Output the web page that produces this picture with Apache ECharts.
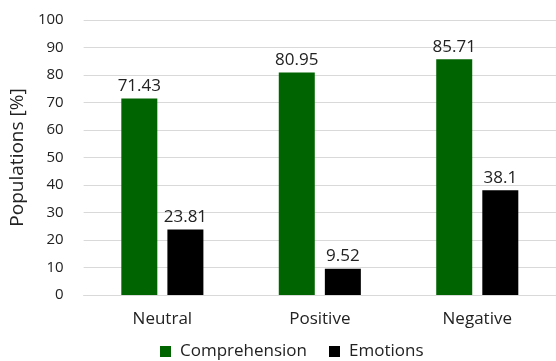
<!DOCTYPE html>
<html>
<head>
<meta charset="utf-8">
<script src="https://cdn.jsdelivr.net/npm/echarts@6/dist/echarts.min.js"></script>
<style>
  html, body { margin: 0; padding: 0; background: #fff; }
  #chart { width: 556px; height: 361px; }
</style>
</head>
<body>
<div id="chart"></div>
<script>
// Share of population per stimulus type
const categories = ['Neutral', 'Positive', 'Negative'];
const comprehension = [71.43, 80.95, 85.71];
const emotions = [23.81, 9.52, 38.1];
const yTicks = { min: 0, max: 100, interval: 10 };

const FONT = '"Open Sans", "Noto Sans", sans-serif';
const TEXT = '#222';

const chart = echarts.init(document.getElementById('chart'), null, { renderer: 'canvas' });

const valueLabel = {
  show: true,
  position: 'top',
  distance: 4,
  color: TEXT,
  fontFamily: FONT,
  fontSize: 17
};

chart.setOption({
  animation: false,
  textStyle: { fontFamily: FONT },
  grid: { left: 83, top: 20, width: 483, height: 275, containLabel: false },
  legend: {
    data: ['Comprehension', 'Emotions'],
    top: 338,
    left: 155,
    icon: 'rect',
    itemWidth: 11,
    itemHeight: 11,
    itemGap: 22,
    textStyle: { color: TEXT, fontFamily: FONT, fontSize: 17, padding: [0, 0, 0, 4] }
  },
  xAxis: {
    type: 'category',
    data: categories,
    axisLine: { show: true, lineStyle: { color: '#d9d9d9', width: 1 } },
    axisTick: { show: false },
    axisLabel: { color: TEXT, fontFamily: FONT, fontSize: 17, margin: 16 }
  },
  yAxis: {
    type: 'value',
    min: yTicks.min,
    max: yTicks.max,
    interval: yTicks.interval,
    name: 'Populations [%]',
    nameLocation: 'middle',
    nameRotate: 90,
    nameGap: 42,
    nameTextStyle: { color: TEXT, fontFamily: FONT, fontSize: 19 },
    axisLine: { show: false },
    axisTick: { show: false },
    axisLabel: { color: TEXT, fontFamily: FONT, fontSize: 15, margin: 20 },
    splitLine: { show: true, lineStyle: { color: '#d9d9d9', width: 1 } }
  },
  series: [
    {
      name: 'Comprehension',
      type: 'bar',
      data: comprehension,
      barWidth: 36,
      barGap: '28%',
      itemStyle: { color: '#006400' },
      label: valueLabel
    },
    {
      name: 'Emotions',
      type: 'bar',
      data: emotions,
      barWidth: 36,
      barGap: '28%',
      itemStyle: { color: '#000000' },
      label: valueLabel
    }
  ]
});
</script>
</body>
</html>
